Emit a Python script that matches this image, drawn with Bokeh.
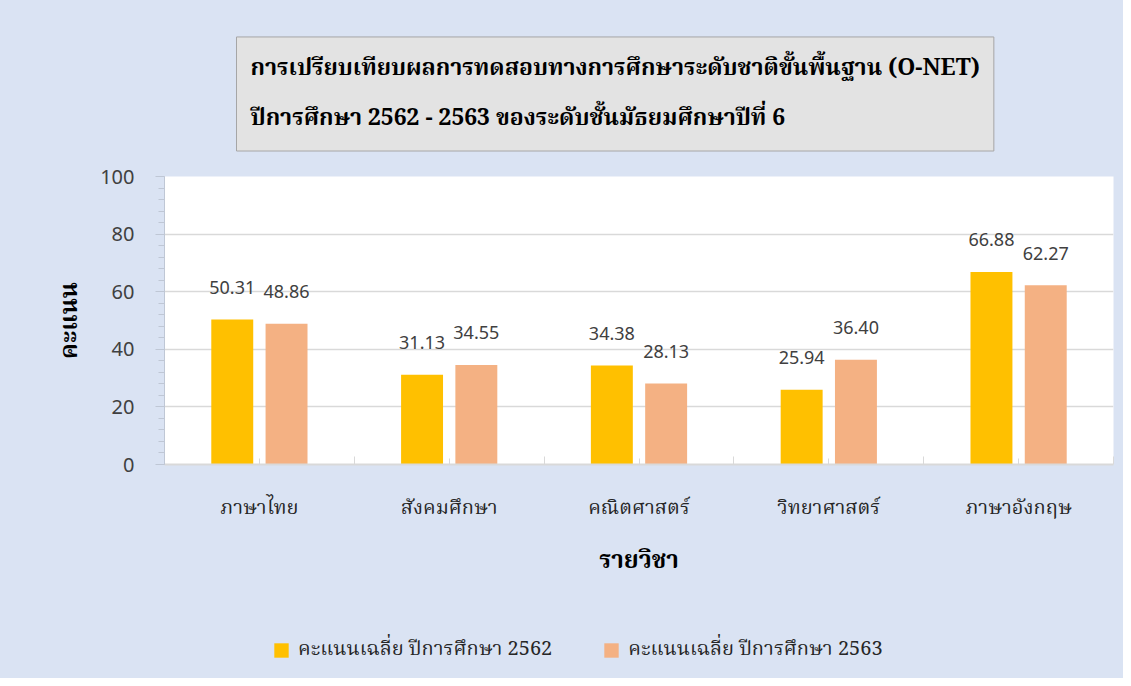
import numpy as np
from bokeh.plotting import figure
from bokeh.layouts import column
from bokeh.models import (Range1d, FixedTicker, SingleIntervalTicker, LabelSet, ColumnDataSource,
                          Legend, LegendItem, Title)
from bokeh.core.properties import value
from bokeh.embed import file_html
from bokeh.resources import INLINE

subjects = ["ภาษาไทย", "สังคมศึกษา", "คณิตศาสตร์", "วิทยาศาสตร์", "ภาษาอังกฤษ"]
score_2562 = [50.31, 31.13, 34.38, 25.94, 66.88]
score_2563 = [48.86, 34.55, 28.13, 36.40, 62.27]
series_names = ["คะแนนเฉลี่ย ปีการศึกษา 2562", "คะแนนเฉลี่ย ปีการศึกษา 2563"]
title_lines = ["การเปรียบเทียบผลการทดสอบทางการศึกษาระดับชาติขั้นพื้นฐาน (O-NET)",
               "ปีการศึกษา 2562 - 2563 ของระดับชั้นมัธยมศึกษาปีที่ 6"]
y_title = "คะแนน"
x_title = "รายวิชา"

THAI = "Noto Serif Thai, Noto Sans Thai, Kinnari, Norasi, Loma, serif"
NUM = "Noto Sans"
BG = "#DAE3F3"
C1 = "#FFC000"
C2 = "#F4B183"

centers = np.arange(len(subjects)) + 0.5
bounds = np.arange(len(subjects) + 1).astype(float)
off = 0.143
bw = 0.221

p = figure(width=1123, height=600, output_backend="svg", toolbar_location=None,
           x_range=Range1d(0, len(subjects)), y_range=Range1d(0, 100),
           min_border_left=164, min_border_right=10, min_border_top=176, min_border_bottom=136)
p.background_fill_color = "white"
p.border_fill_color = BG
p.outline_line_color = None
p.styles = {"background-color": BG}

src1 = ColumnDataSource(dict(x=centers - off, top=score_2562, txt=["%.2f" % v for v in score_2562]))
src2 = ColumnDataSource(dict(x=centers + off, top=score_2563, txt=["%.2f" % v for v in score_2563]))

r1 = p.vbar(x="x", top="top", width=bw, source=src1, fill_color=C1, line_color=None)
r2 = p.vbar(x="x", top="top", width=bw, source=src2, fill_color=C2, line_color=None)

for s in (src1, src2):
    p.add_layout(LabelSet(x="x", y="top", text="txt", source=s, text_align="center", text_baseline="middle",
                          y_offset=32, text_font=value(NUM), text_font_size="18px", text_color="#404040"))

# axes
p.xgrid.grid_line_color = None
p.ygrid.grid_line_color = "#D9D9D9"
p.ygrid.grid_line_width = 1.5
p.yaxis.ticker = SingleIntervalTicker(interval=20, num_minor_ticks=5)
p.yaxis.axis_line_color = "#BFC7D5"
p.yaxis.major_tick_line_color = "#BFC7D5"
p.yaxis.minor_tick_line_color = "#BFC7D5"
p.yaxis.major_tick_in = 0
p.yaxis.major_tick_out = 9
p.yaxis.minor_tick_in = 0
p.yaxis.minor_tick_out = 6
p.yaxis.major_label_text_font = NUM
p.yaxis.major_label_text_font_size = "20px"
p.yaxis.major_label_text_color = "#404040"
p.yaxis.major_label_standoff = 21
p.yaxis.axis_label = y_title
p.yaxis.axis_label_text_font = THAI
p.yaxis.axis_label_text_font_style = "bold"
p.yaxis.axis_label_text_font_size = "24px"
p.yaxis.axis_label_text_color = "black"
p.yaxis.axis_label_standoff = 7

p.xaxis.ticker = FixedTicker(ticks=list(centers), minor_ticks=list(bounds))
p.xaxis.major_label_overrides = {float(c): s for c, s in zip(centers, subjects)}
p.xaxis.axis_line_color = "#D9D9D9"
p.xaxis.axis_line_width = 2
p.xaxis.major_tick_line_color = "#D9D9D9"
p.xaxis.minor_tick_line_color = "#D9D9D9"
p.xaxis.major_tick_in = 6
p.xaxis.major_tick_out = 0
p.xaxis.minor_tick_in = 8
p.xaxis.minor_tick_out = 0
p.xaxis.major_label_text_font = THAI
p.xaxis.major_label_text_font_size = "20px"
p.xaxis.major_label_text_color = "#262626"
p.xaxis.major_label_standoff = 28
p.xaxis.axis_label = x_title
p.xaxis.axis_label_text_font = THAI
p.xaxis.axis_label_text_font_style = "bold"
p.xaxis.axis_label_text_font_size = "24px"
p.xaxis.axis_label_text_color = "black"
p.xaxis.axis_label_standoff = 14

# title box
t = Title(text="\n".join(title_lines), align="left", offset=72, standoff=51,
          text_font=THAI, text_font_size="23px", text_font_style="bold", text_color="black",
          text_line_height=1.39, background_fill_color="#E3E3E3", border_line_color="#A6A6A6",
          padding=14)
p.add_layout(t, "above")

# legend strip (same blue background)
q = figure(width=1123, height=78, output_backend="svg", toolbar_location=None,
           x_range=Range1d(0, 1), y_range=Range1d(0, 1), x_axis_location=None, y_axis_location=None,
           min_border_left=0, min_border_right=0, min_border_top=0, min_border_bottom=0)
q.background_fill_color = BG
q.border_fill_color = BG
q.outline_line_color = None
q.grid.grid_line_color = None
q.styles = {"background-color": BG}
k1 = q.vbar(x=[-5], top=[0], width=0.1, fill_color=C1, line_color=None)
k2 = q.vbar(x=[-5], top=[0], width=0.1, fill_color=C2, line_color=None)
lg = Legend(items=[LegendItem(label=series_names[0], renderers=[k1]),
                   LegendItem(label=series_names[1], renderers=[k2])],
            orientation="horizontal", location=(108, 12))
lg.background_fill_alpha = 0
lg.border_line_color = None
lg.label_text_font = THAI
lg.label_text_font_size = "20px"
lg.label_text_color = "#262626"
lg.glyph_width = 18
lg.glyph_height = 18
lg.spacing = 50
lg.label_standoff = 8
lg.padding = 0
lg.margin = 0
q.add_layout(lg, "center")

layout = column(p, q, spacing=0, styles={"background-color": BG})
open("out.html", "w").write(file_html(layout, INLINE))
